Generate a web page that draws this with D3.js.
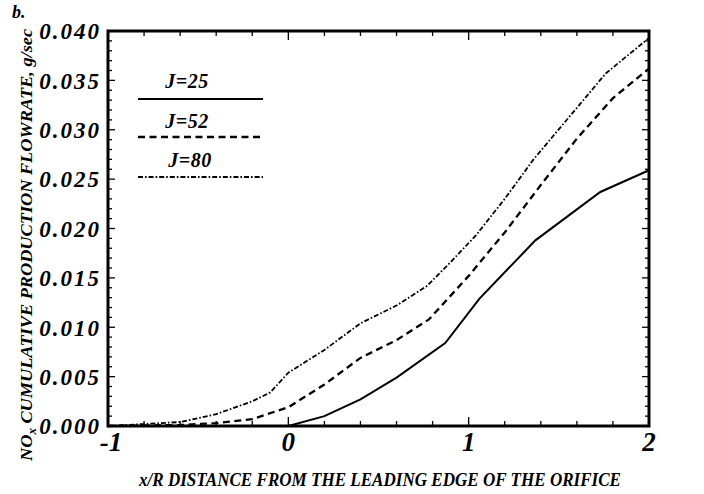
<!DOCTYPE html>
<html><head><meta charset="utf-8">
<script src="https://cdn.jsdelivr.net/npm/d3@7"></script>
<style>
body{margin:0;background:#fff;}
text{font-family:"Liberation Serif","Times New Roman",serif;font-weight:bold;font-style:italic;fill:#000;}
</style></head>
<body><svg id="c" width="704" height="494"></svg>
<script>
const seriesNames = ["J=25", "J=52", "J=80"];
const j25x = [0, 0.2, 0.4, 0.6, 0.87, 1.06, 1.37, 1.73, 2.0];
const j25y = [0, 0.001, 0.0027, 0.0049, 0.0084, 0.0129, 0.0188, 0.0237, 0.0259];
const j52x = [-1, -0.6, -0.4, -0.2, 0, 0.2, 0.4, 0.6, 0.78, 1.0, 1.2, 1.4, 1.6, 1.8, 2.0];
const j52y = [0, 0.0001, 0.0003, 0.0007, 0.0019, 0.0042, 0.0069, 0.0087, 0.0108, 0.0152, 0.0196, 0.0244, 0.0291, 0.0332, 0.0362];
const j80x = [-1, -0.8, -0.6, -0.4, -0.2, -0.1, 0, 0.2, 0.4, 0.6, 0.77, 0.9, 1.04, 1.2, 1.36, 1.76, 2.0];
const j80y = [0, 0.0002, 0.0004, 0.0012, 0.0025, 0.0034, 0.0054, 0.0077, 0.0104, 0.0122, 0.0142, 0.0166, 0.0193, 0.0230, 0.0270, 0.0357, 0.0393];
const xTickLabels = ["-1", "0", "1", "2"];
const yTickLabels = ["0.000", "0.005", "0.010", "0.015", "0.020", "0.025", "0.030", "0.035", "0.040"];

const svg = d3.select("#c");
const L = 108, R = 649, T = 31, B = 426;
const x = d3.scaleLinear().domain([-1, 2]).range([L, R]);
const y = d3.scaleLinear().domain([0, 0.04]).range([B, T]);

const xMinor = d3.range(-1, 2.0001, 0.2).map(v => +v.toFixed(2));
const yMinor = d3.range(0, 0.04001, 0.001).map(v => +v.toFixed(4));
const xMajor = xTickLabels.map(Number);
const yMajor = yTickLabels.map(Number);
function isMaj(v, arr){ return arr.some(a => Math.abs(a - v) < 1e-9); }

const g = svg.append("g");
xMinor.forEach(v => {
  const len = isMaj(v, xMajor) ? 9 : 5;
  g.append("line").attr("x1", x(v)).attr("x2", x(v)).attr("y1", B).attr("y2", B - len).attr("stroke", "#000").attr("stroke-width", 1.3);
  g.append("line").attr("x1", x(v)).attr("x2", x(v)).attr("y1", T).attr("y2", T + len).attr("stroke", "#000").attr("stroke-width", 1.3);
});
yMinor.forEach(v => {
  const len = isMaj(v, yMajor) ? 7 : 4;
  g.append("line").attr("y1", y(v)).attr("y2", y(v)).attr("x1", L).attr("x2", L + len).attr("stroke", "#000").attr("stroke-width", 1.3);
  g.append("line").attr("y1", y(v)).attr("y2", y(v)).attr("x1", R).attr("x2", R - len).attr("stroke", "#000").attr("stroke-width", 1.3);
});

g.append("rect").attr("x", L).attr("y", T).attr("width", R - L).attr("height", B - T)
  .attr("fill", "none").attr("stroke", "#000").attr("stroke-width", 3);

yTickLabels.forEach(t => {
  g.append("text").attr("x", 101).attr("y", y(+t)).attr("dy", "0.36em")
    .attr("text-anchor", "end").attr("font-size", 23).attr("letter-spacing", 2).text(t);
});
xTickLabels.forEach(t => {
  g.append("text").attr("x", x(+t) + (t === "-1" ? 3 : 0)).attr("y", 451)
    .attr("text-anchor", "middle").attr("font-size", 27).text(t);
});

const line = d3.line().x(d => x(d[0])).y(d => y(d[1]));
const styles = [
  {dash: null, w: 2},
  {dash: "7,4.5", w: 2.3},
  {dash: "5,2,1.6,2", w: 1.8}
];
const data = [
  j25x.map((v, i) => [v, j25y[i]]),
  j52x.map((v, i) => [v, j52y[i]]),
  j80x.map((v, i) => [v, j80y[i]])
];
data.forEach((d, i) => {
  g.append("path").attr("d", line(d)).attr("fill", "none").attr("stroke", "#000")
    .attr("stroke-width", styles[i].w).attr("stroke-dasharray", styles[i].dash);
});

const legY = [[88, 99], [128, 137], [167, 177]];
seriesNames.forEach((n, i) => {
  g.append("text").attr("x", 187 + (i === 2 ? 3 : 0)).attr("y", legY[i][0]).attr("text-anchor", "middle")
    .attr("font-size", 20).attr("letter-spacing", 0.5).text(n);
  g.append("line").attr("x1", 138).attr("x2", 263).attr("y1", legY[i][1]).attr("y2", legY[i][1])
    .attr("stroke", "#000").attr("stroke-width", styles[i].w).attr("stroke-dasharray", styles[i].dash);
});

svg.append("text").attr("x", 12).attr("y", 18).attr("font-size", 18).text("b.");

svg.append("text").attr("x", 380).attr("y", 486).attr("text-anchor", "middle")
  .attr("font-size", 18).attr("textLength", 482).attr("lengthAdjust", "spacingAndGlyphs")
  .text("x/R DISTANCE FROM THE LEADING EDGE OF THE ORIFICE");

const yt = svg.append("text").attr("transform", "translate(32,245) rotate(-90)")
  .attr("text-anchor", "middle").attr("font-size", 17)
  .attr("textLength", 432).attr("lengthAdjust", "spacingAndGlyphs");
yt.append("tspan").text("NO");
yt.append("tspan").attr("dy", 4).attr("font-size", 12).text("x");
yt.append("tspan").attr("dy", -4).text(" CUMULATIVE PRODUCTION FLOWRATE, g/sec");
</script></body></html>
